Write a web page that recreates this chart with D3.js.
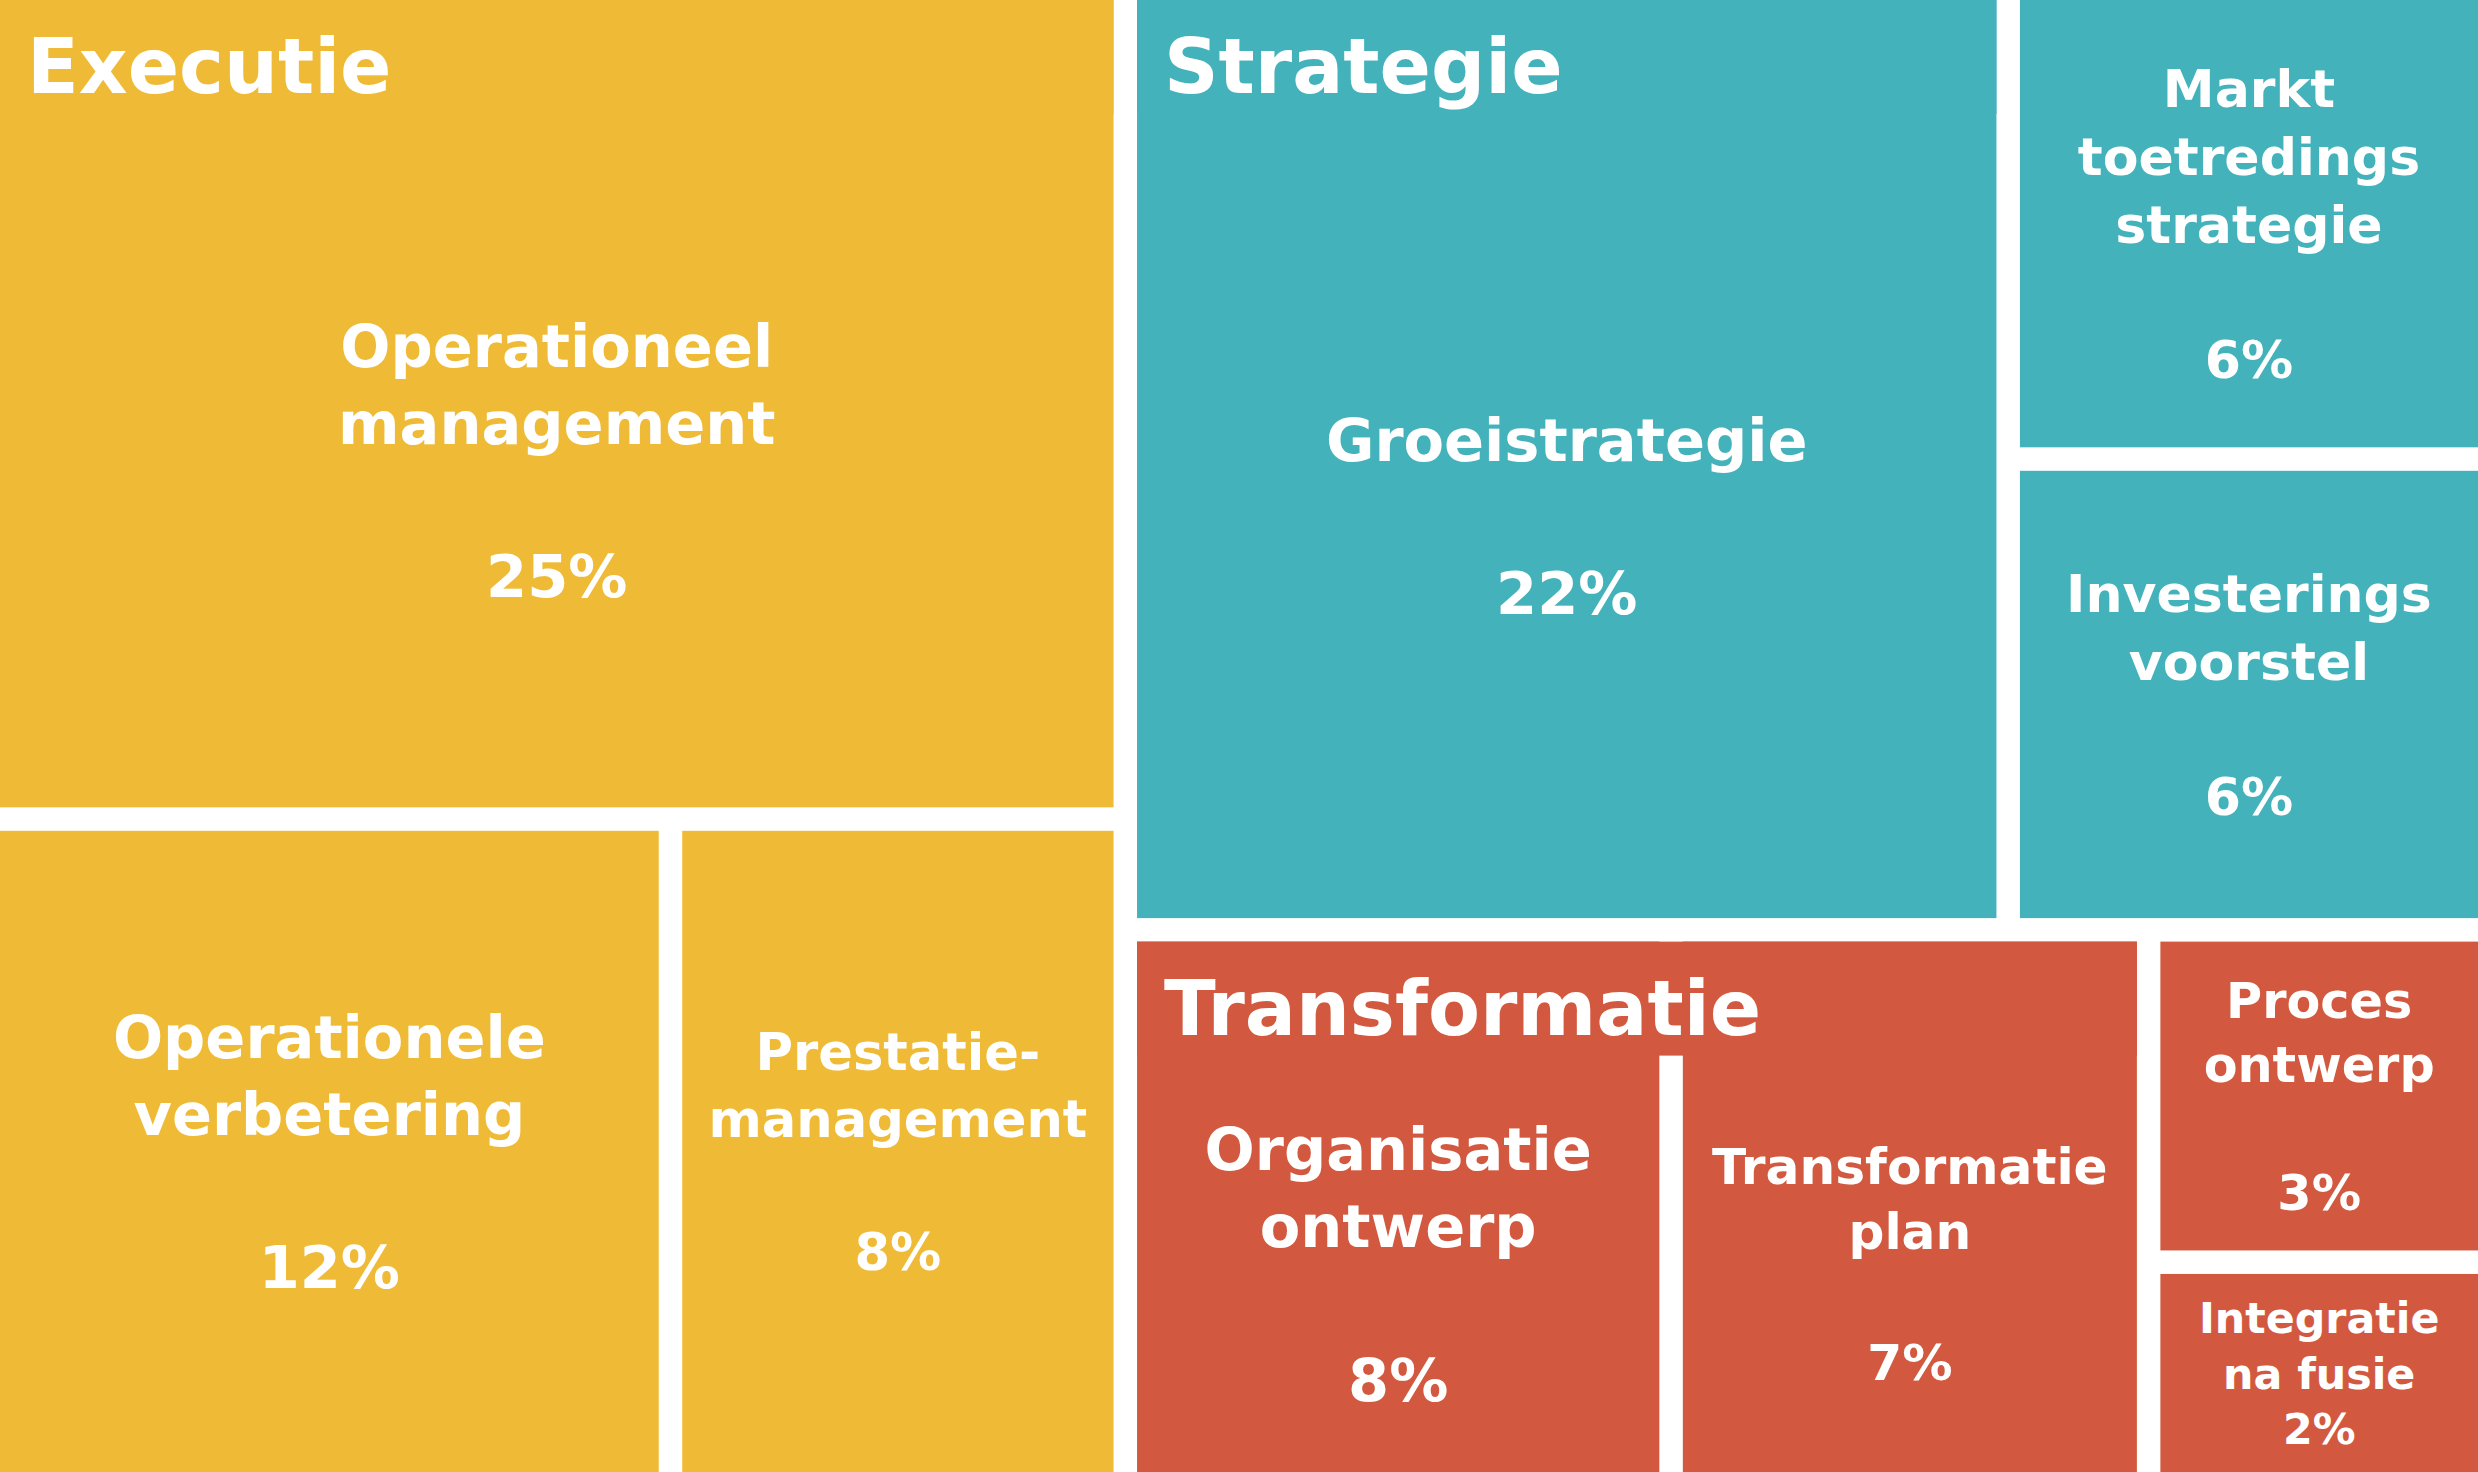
<!DOCTYPE html>
<html><head><meta charset="utf-8">
<script src="https://cdn.jsdelivr.net/npm/d3@7"></script>
<style>html,body{margin:0;padding:0;background:#fff;overflow:hidden}svg{display:block}</style>
</head><body>
<script>
// ---- data ----
const groups = ["Executie", "Strategie", "Transformatie"];
const categories = ["Operationeel management", "Operationele verbetering", "Prestatie-management",
  "Groeistrategie", "Markt toetredings strategie", "Investerings voorstel",
  "Organisatie ontwerp", "Transformatie plan", "Proces ontwerp", "Integratie na fusie"];
const categoryGroup = ["Executie", "Executie", "Executie",
  "Strategie", "Strategie", "Strategie",
  "Transformatie", "Transformatie", "Transformatie", "Transformatie"];
const values = [25, 12, 8, 22, 6, 6, 8, 7, 3, 2];
const labelLines = [["Operationeel", "management"], ["Operationele", "verbetering"], ["Prestatie-", "management"],
  ["Groeistrategie"], ["Markt", "toetredings", "strategie"], ["Investerings", "voorstel"],
  ["Organisatie", "ontwerp"], ["Transformatie", "plan"], ["Proces", "ontwerp"], ["Integratie", "na fusie"]];

// ---- style ----
const W = 2478, H = 1472;
const groupColor = {Executie: "#EFBA35", Strategie: "#43B2BB", Transformatie: "#D2593F"};
const headerSpan = {Executie: 1, Strategie: 1, Transformatie: 2};
const labelSize = {"Operationeel management": 63.5, "Operationele verbetering": 63.5, "Prestatie-management": 55,
  "Groeistrategie": 63.5, "Markt toetredings strategie": 56, "Investerings voorstel": 56,
  "Organisatie ontwerp": 63.5, "Transformatie plan": 54, "Proces ontwerp": 53, "Integratie na fusie": 46};
const FONT = "'DejaVu Sans', sans-serif";
const fontScale = 0.93;      // DejaVu Sans Bold vs reference face
const capRatio = 0.729;
const headerSize = 81.5;
const headerH = 114;
const gap = 23.5;

const treeData = {name: "root", children: groups.map(g => ({
  name: g,
  children: categories.map((c, i) => ({name: c, value: values[i], lines: labelLines[i], group: categoryGroup[i]}))
    .filter(d => d.group === g)
}))};

const root = d3.hierarchy(treeData).sum(d => d.value || 0).sort((a, b) => b.value - a.value);
d3.treemap().tile(d3.treemapSquarify.ratio(1)).size([W, H]).paddingInner(gap)(root);

const svg = d3.select("body").append("svg").attr("width", W).attr("height", H);

const leaves = root.leaves();
svg.append("g").selectAll("rect").data(leaves).join("rect")
  .attr("x", d => d.x0).attr("y", d => d.y0)
  .attr("width", d => d.x1 - d.x0).attr("height", d => d.y1 - d.y0)
  .attr("fill", d => groupColor[d.data.group]);

const groupNodes = root.children;
// header bands
svg.append("g").selectAll("rect").data(groupNodes).join("rect")
  .attr("x", d => d.x0).attr("y", d => d.y0)
  .attr("width", d => d.children[headerSpan[d.data.name] - 1].x1 - d.x0)
  .attr("height", headerH)
  .attr("fill", d => groupColor[d.data.name]);

svg.append("g").selectAll("text").data(groupNodes).join("text")
  .attr("x", d => d.x0 + 27).attr("y", d => d.y0 + 93)
  .attr("fill", "#fff").attr("font-family", FONT).attr("font-weight", "bold")
  .attr("font-size", headerSize * fontScale)
  .text(d => d.data.name);

// leaf labels
const inHeader = new Set();
groupNodes.forEach(g => g.children.slice(0, headerSpan[g.data.name]).forEach(c => inHeader.add(c)));

leaves.forEach(d => {
  const ms = labelSize[d.data.name];
  const fs = ms * fontScale;
  const lh = ms * 1.21;
  const h = d.y1 - d.y0;
  const lines = d.data.lines.slice();
  if (h > 250) lines.push("");
  lines.push(d.data.value + "%");
  const top = inHeader.has(d) ? d.y0 + headerH : d.y0;
  const cy = (top + d.y1) / 2;
  const cap = fs * capRatio;
  const blockH = cap + (lines.length - 1) * lh;
  const firstBase = cy - blockH / 2 + cap;
  const cx = (d.x0 + d.x1) / 2;
  const t = svg.append("text").attr("text-anchor", "middle")
    .attr("fill", "#fff").attr("font-family", FONT).attr("font-weight", "bold")
    .attr("font-size", fs);
  lines.forEach((ln, i) => {
    if (ln === "") return;
    t.append("tspan").attr("x", cx).attr("y", firstBase + i * lh).text(ln);
  });
});
</script>
</body></html>
